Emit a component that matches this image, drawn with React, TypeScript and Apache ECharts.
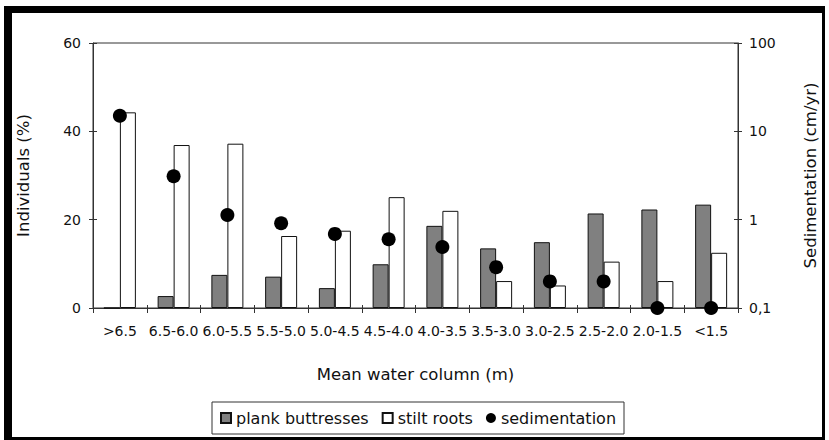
import React, { useEffect, useRef } from "react";
import * as echarts from "echarts";

const categories = [
  ">6.5", "6.5-6.0", "6.0-5.5", "5.5-5.0", "5.0-4.5", "4.5-4.0",
  "4.0-3.5", "3.5-3.0", "3.0-2.5", "2.5-2.0", "2.0-1.5", "<1.5",
];
const plankButtresses = [0, 2.7, 7.5, 7.1, 4.5, 9.9, 18.6, 13.5, 14.9, 21.4, 22.3, 23.4];
const stiltRoots = [44.3, 36.9, 37.2, 16.3, 17.5, 25.1, 22.0, 6.1, 5.1, 10.5, 6.1, 12.5];
const sedimentation = [15, 3.1, 1.13, 0.91, 0.69, 0.6, 0.49, 0.29, 0.2, 0.2, 0.1, 0.1];
const leftAxisRange = { min: 0, max: 60, interval: 20 };
const rightAxisRange = { min: 0.1, max: 100 };
const seriesNames = ["plank buttresses", "stilt roots", "sedimentation"];
const axisTitles = {
  x: "Mean water column (m)",
  yLeft: "Individuals (%)",
  yRight: "Sedimentation (cm/yr)",
};

const FONT = "DejaVu Sans";
const AXIS_COLOR = "#333";

export default function App() {
  const ref = useRef<HTMLDivElement>(null);

  useEffect(() => {
    if (!ref.current) return;
    const chart = echarts.init(ref.current, null, { renderer: "svg" });

    const rightFmt = (v: number) =>
      v < 1 ? v.toFixed(1).replace(".", ",") : String(Math.round(v));

    const tickLabel = { fontFamily: FONT, fontSize: 14, color: "#111" };
    const nameStyle = { fontFamily: FONT, fontSize: 16.5, color: "#111" };

    chart.setOption({
      animation: false,
      backgroundColor: "#fff",
      grid: {
        left: 93,
        right: 91,
        top: 43,
        bottom: 132,
        show: true,
        borderColor: AXIS_COLOR,
        borderWidth: 1,
        backgroundColor: "transparent",
      },
      legend: {
        left: 212,
        top: 402,
        orient: "horizontal",
        itemWidth: 10,
        itemHeight: 10,
        itemGap: 13,
        padding: [8, 8, 8, 8],
        borderColor: AXIS_COLOR,
        borderWidth: 1,
        backgroundColor: "#fff",
        textStyle: { fontFamily: FONT, fontSize: 16, color: "#111" },
        data: [
          { name: seriesNames[0], icon: "rect" },
          { name: seriesNames[1], icon: "rect" },
          { name: seriesNames[2], icon: "circle" },
        ],
      },
      xAxis: [
        {
          type: "category",
          data: categories,
          position: "bottom",
          axisLine: { show: true, lineStyle: { color: AXIS_COLOR, width: 1 } },
          axisTick: { show: true, inside: false, length: 5, lineStyle: { color: AXIS_COLOR } },
          axisLabel: { ...tickLabel, margin: 16, interval: 0 },
          splitLine: { show: false },
          name: axisTitles.x,
          nameLocation: "middle",
          nameGap: 58,
          nameTextStyle: nameStyle,
        },
        {
          type: "category",
          data: categories,
          position: "bottom",
          axisLine: { show: false },
          axisTick: { show: true, inside: true, length: 3, lineStyle: { color: AXIS_COLOR } },
          axisLabel: { show: false },
          splitLine: { show: false },
        },
      ],
      yAxis: [
        {
          type: "value",
          position: "left",
          ...leftAxisRange,
          axisLine: { show: true, lineStyle: { color: AXIS_COLOR, width: 1 } },
          axisTick: { show: true, inside: false, length: 4, lineStyle: { color: AXIS_COLOR } },
          axisLabel: { ...tickLabel, margin: 12 },
          splitLine: { show: false },
          name: axisTitles.yLeft,
          nameLocation: "middle",
          nameRotate: 90,
          nameGap: 61,
          nameTextStyle: nameStyle,
        },
        {
          type: "log",
          logBase: 10,
          position: "right",
          ...rightAxisRange,
          axisLine: { show: true, lineStyle: { color: AXIS_COLOR, width: 1 } },
          axisTick: { show: true, inside: false, length: 4, lineStyle: { color: AXIS_COLOR } },
          axisLabel: { ...tickLabel, margin: 11, formatter: rightFmt },
          splitLine: { show: false },
          minorTick: { show: false },
          name: axisTitles.yRight,
          nameLocation: "middle",
          nameRotate: 90,
          nameGap: 64,
          nameTextStyle: nameStyle,
        },
        {
          type: "value",
          position: "left",
          ...leftAxisRange,
          axisLine: { show: false },
          axisTick: { show: true, inside: true, length: 4, lineStyle: { color: AXIS_COLOR } },
          axisLabel: { show: false },
          splitLine: { show: false },
        },
        {
          type: "log",
          logBase: 10,
          position: "right",
          ...rightAxisRange,
          axisLine: { show: false },
          axisTick: { show: true, inside: true, length: 4, lineStyle: { color: AXIS_COLOR } },
          axisLabel: { show: false },
          splitLine: { show: false },
        },
      ],
      series: [
        {
          name: seriesNames[0],
          type: "bar",
          xAxisIndex: 0,
          yAxisIndex: 0,
          data: plankButtresses,
          barWidth: 16,
          barGap: "0%",
          itemStyle: { color: "#808080", borderColor: "#111", borderWidth: 1, borderRadius: 0, opacity: 1 },
        },
        {
          name: seriesNames[1],
          type: "bar",
          xAxisIndex: 0,
          yAxisIndex: 0,
          data: stiltRoots,
          barWidth: 16,
          barGap: "0%",
          itemStyle: { color: "#fff", borderColor: "#111", borderWidth: 1, borderRadius: 0, opacity: 1 },
        },
        {
          name: seriesNames[2],
          type: "scatter",
          xAxisIndex: 0,
          yAxisIndex: 1,
          data: sedimentation,
          symbol: "circle",
          symbolSize: 14,
          clip: false,
          itemStyle: { color: "#000", opacity: 1 },
          z: 5,
        },
      ],
      graphic: [
        { type: "rect", silent: true, shape: { x: 4, y: 6, width: 821, height: 7 }, style: { fill: "#000" } },
        { type: "rect", silent: true, shape: { x: 4, y: 6, width: 8, height: 434 }, style: { fill: "#000" } },
        { type: "rect", silent: true, shape: { x: 822, y: 6, width: 3, height: 434 }, style: { fill: "#000" } },
        { type: "rect", silent: true, shape: { x: 4, y: 437, width: 821, height: 3 }, style: { fill: "#000" } },
      ],
    });

    return () => chart.dispose();
  }, []);

  return (
    <div
      ref={ref}
      style={{ position: "absolute", left: 0, top: 0, width: 829, height: 440, background: "#fff" }}
    />
  );
}
